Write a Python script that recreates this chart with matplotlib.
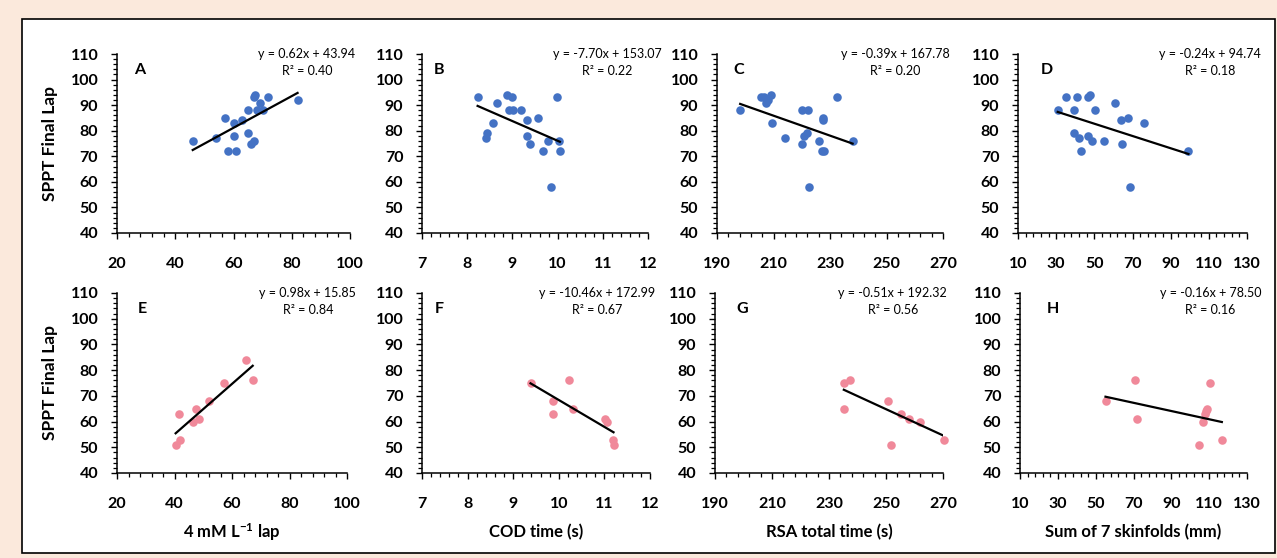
import matplotlib
matplotlib.use('Agg')
import matplotlib.pyplot as plt
from matplotlib.patches import Rectangle
from matplotlib.ticker import MultipleLocator

# Top row (blue): all players
sppt_top_a = [76, 77, 85, 72, 83, 78, 72, 84, 88, 79, 75, 76, 93, 94, 88, 91, 88, 93, 92]
lactate_lap = [46, 54, 57, 58, 60, 60, 61, 63, 65, 65, 66, 67, 67, 67.4, 68, 69, 70, 72, 82]

sppt_top_b = [93, 77, 79, 83, 91, 94, 88, 93, 88, 88, 84, 78, 75, 85, 72, 76, 58, 93, 76, 72]
cod_time = [8.23, 8.42, 8.44, 8.57, 8.67, 8.88, 8.93, 9.0, 9.02, 9.18, 9.32, 9.32, 9.40,
            9.57, 9.68, 9.78, 9.85, 9.99, 10.02, 10.05]

sppt_top_c = [88, 93, 93, 91, 92, 94, 83, 77, 88, 88, 75, 78, 79, 58, 76, 85, 84, 72, 72, 93, 76]
rsa_time = [198.2, 205.5, 206.7, 207.4, 207.9, 209.2, 209.6, 213.9, 220.1, 222.2, 220.2,
            220.8, 221.9, 222.5, 226.2, 227.5, 227.4, 227.1, 227.9, 232.5, 238.0]

sppt_top_d = [88, 93, 88, 79, 93, 77, 72, 78, 93, 94, 76, 88, 76, 91, 84, 75, 85, 58, 83, 72]
skinfolds = [30.8, 34.9, 39.1, 39.2, 41.0, 41.9, 43.1, 46.6, 46.8, 47.6, 48.8, 50.1, 55.0,
             60.6, 63.9, 64.5, 67.4, 68.5, 76.0, 99.3]

# Bottom row (pink): subgroup
sppt_bot_e = [51, 53, 63, 60, 65, 61, 68, 75, 84, 76]
lactate_lap_sub = [40.4, 42.0, 41.4, 46.5, 47.4, 48.6, 52.1, 57.3, 65.0, 67.2]

sppt_bot_f = [75, 63, 68, 76, 65, 61, 60, 53, 51]
cod_time_sub = [9.38, 9.87, 9.88, 10.22, 10.31, 11.01, 11.05, 11.18, 11.20]

sppt_bot_g = [65, 75, 76, 68, 51, 63, 61, 60, 53]
rsa_time_sub = [235.2, 235.2, 237.5, 250.7, 251.6, 255.4, 258.0, 262.1, 270.2]

sppt_bot_h = [68, 76, 61, 51, 60, 63, 64, 65, 75, 53]
skinfolds_sub = [55.2, 70.7, 72.1, 104.7, 107.0, 107.9, 108.4, 109.0, 110.2, 116.7]

# Trend line equations printed on each panel
letters = ['A', 'B', 'C', 'D', 'E', 'F', 'G', 'H']
slopes = [0.62, -7.70, -0.39, -0.24, 0.98, -10.46, -0.51, -0.16]
intercepts = [43.94, 153.07, 167.78, 94.74, 15.85, 172.99, 192.32, 78.50]
r_squared = [0.40, 0.22, 0.20, 0.18, 0.84, 0.67, 0.56, 0.16]

x_labels = ['4 mM L$^{-1}$ lap', 'COD time (s)', 'RSA total time (s)', 'Sum of 7 skinfolds (mm)']
y_label = 'SPPT Final Lap'

BLUE = '#4472C4'
PINK = '#F0899A'
W, H = 1277, 558

plt.rcParams['font.family'] = ['Lato', 'DejaVu Sans']
plt.rcParams['mathtext.fontset'] = 'custom'
plt.rcParams['mathtext.rm'] = 'Lato:bold'
plt.rcParams['mathtext.it'] = 'Lato:bold'

fig = plt.figure(figsize=(W / 100, H / 100), dpi=100, facecolor='#FBE9DC')

# white box with black frame, kept behind the axes
fig.patches.append(Rectangle((22 / W, 1 - 553 / H), (1275 - 22) / W, (553 - 19) / H,
                             transform=fig.transFigure, facecolor='white',
                             edgecolor='black', linewidth=1.2, zorder=-5))

# (left, right) pixel extents of each column, (top, bottom) of each row
cols_top = [(117, 350), (422, 648), (717, 943), (1018, 1247)]
cols_bot = [(117, 347), (422, 650), (715, 943), (1020, 1247)]
rows = [(54, 233), (293, 473)]

# x axis setup per column: (min, max, major, minor)
x_axes = [(20, 100, 20, 4), (7, 12, 1, 0.2), (190, 270, 20, 4), (10, 130, 20, 4)]

letter_pos = [0.099, 0.075, 0.097, 0.127, 0.11, 0.075, 0.12, 0.145]
eq_pos = [0.815, 0.82, 0.79, 0.84, 0.83, 0.77, 0.78, 0.84]

data = [
    (lactate_lap, sppt_top_a), (cod_time, sppt_top_b), (rsa_time, sppt_top_c), (skinfolds, sppt_top_d),
    (lactate_lap_sub, sppt_bot_e), (cod_time_sub, sppt_bot_f), (rsa_time_sub, sppt_bot_g),
    (skinfolds_sub, sppt_bot_h),
]


def make_axes(col, row):
    left, right = (cols_top if row == 0 else cols_bot)[col]
    top, bottom = rows[row]
    ax = fig.add_axes([left / W, 1 - bottom / H, (right - left) / W, (bottom - top) / H])
    ax.patch.set_alpha(0)
    return ax


for i in range(8):
    col, row = i % 4, i // 4
    ax = make_axes(col, row)
    xs, ys = data[i]
    color = BLUE if row == 0 else PINK
    ax.scatter(xs, ys, s=38, color=color, linewidths=0, zorder=3, clip_on=False)

    # trend line over the data range
    x0, x1 = min(xs), max(xs)
    ax.plot([x0, x1], [slopes[i] * x0 + intercepts[i], slopes[i] * x1 + intercepts[i]],
            color='black', linewidth=1.6, zorder=4)

    xmin, xmax, major, minor = x_axes[col]
    ax.set_xlim(xmin, xmax)
    ax.set_ylim(40, 110)
    ax.xaxis.set_major_locator(MultipleLocator(major, offset=xmin % major))
    ax.xaxis.set_minor_locator(MultipleLocator(minor, offset=xmin % minor))
    ax.yaxis.set_major_locator(MultipleLocator(10))
    ax.yaxis.set_minor_locator(MultipleLocator(2))

    for side in ['top', 'right']:
        ax.spines[side].set_visible(False)
    for side in ['left', 'bottom']:
        ax.spines[side].set_linewidth(1.1)
    ax.tick_params(which='major', direction='out', length=4.5, width=1.0, labelsize=11.5)
    ax.tick_params(axis='y', which='major', pad=9)
    ax.tick_params(axis='x', which='major', pad=13)
    ax.tick_params(which='minor', direction='out', length=3, width=0.9)
    for lab in ax.get_xticklabels() + ax.get_yticklabels():
        lab.set_fontweight('bold')

    ax.text(letter_pos[i], 0.91, letters[i], transform=ax.transAxes, fontsize=11.5,
            fontweight='bold', ha='center', va='center')
    sign = '-' if slopes[i] < 0 else ''
    eq = 'y = %s%.2fx + %.2f' % (sign, abs(slopes[i]), intercepts[i])
    ax.text(eq_pos[i], 1.0, eq, transform=ax.transAxes, fontsize=9, ha='center', va='center')
    ax.text(eq_pos[i], 0.905, 'R² = %.2f' % r_squared[i], transform=ax.transAxes,
            fontsize=9, ha='center', va='center')

# shared axis titles
for row in range(2):
    top, bottom = rows[row]
    fig.text(50 / W, 1 - (top + bottom) / 2 / H, y_label, rotation=90, fontsize=12.5,
             fontweight='bold', ha='center', va='center')
for col in range(4):
    left, right = cols_bot[col]
    fig.text((left + right) / 2 / W, 1 - 532 / H, x_labels[col], fontsize=12,
             fontweight='bold', ha='center', va='center')

fig.savefig('out.png', dpi=100, facecolor=fig.get_facecolor())
